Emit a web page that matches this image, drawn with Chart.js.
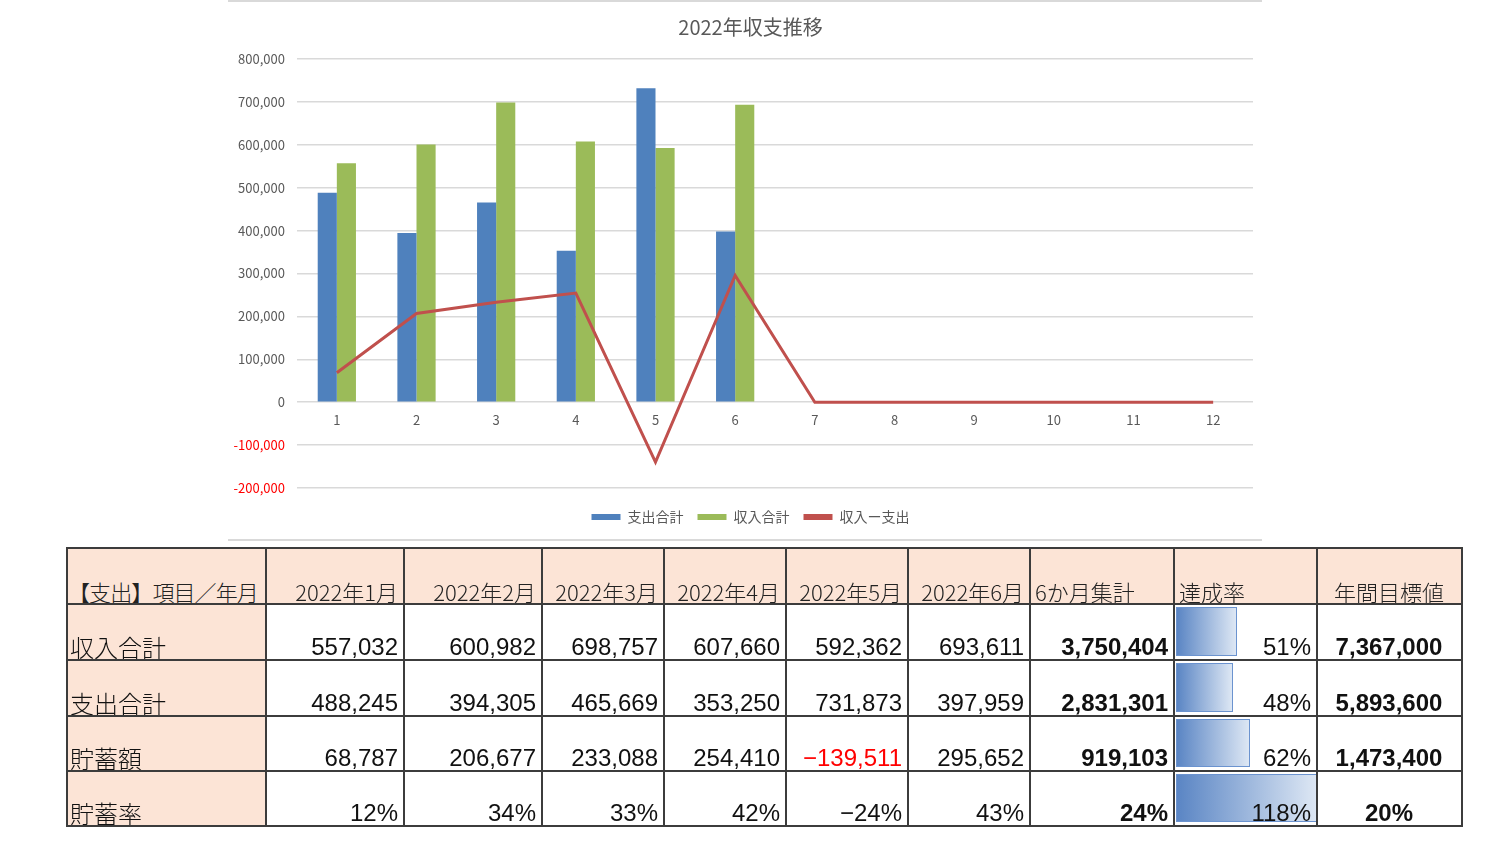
<!DOCTYPE html>
<html lang="ja">
<head>
<meta charset="utf-8">
<script src="https://cdn.jsdelivr.net/npm/chart.js@4.4.1/dist/chart.umd.min.js"></script>
<style>
  html, body { margin: 0; padding: 0; background: #fff; }
  body { width: 1500px; height: 843px; position: relative; overflow: hidden; }
  #chartWrap { position: absolute; left: 228px; top: 0; width: 1034px; height: 540px; }
  #chartWrap::before, #chartWrap::after { content: ""; position: absolute; left: 0; right: 0; height: 2px; background: #d9d9d9; }
  #chartWrap::before { top: 0; }
  #chartWrap::after { top: 539px; }
  #c { position: absolute; left: 0; top: 0; }
  #tbl { position: absolute; left: 66px; top: 547px; width: 1395px; border-collapse: collapse; table-layout: fixed;
         font-family: "Liberation Sans", "Noto Sans CJK JP", sans-serif; color: #111; }
  #tbl td { border: 2px solid #3c3c3c; vertical-align: bottom; padding: 0 5px 0 4px; line-height: 1.05; white-space: nowrap; overflow: hidden; position: relative; }
  #tbl tr.h td { background: #fce4d6; font-size: 22px; height: 54px; font-family: "Noto Sans CJK JP", sans-serif; font-weight: 300; color: #222; }
  #tbl tr.h td.first { letter-spacing: -0.9px; padding-left: 0; }
  #tbl tr.d td { font-size: 24px; height: 54px; }
  #tbl tr.d.s td { height: 53px; }
  #tbl td.lbl { background: #fce4d6; font-family: "Noto Sans CJK JP", sans-serif; font-size: 23px; text-align: left; font-weight: 300; padding-left: 2px; }
  .r { text-align: right; }
  .l { text-align: left; }
  .c { text-align: center; }
  .b { font-weight: bold; }
  .neg { color: #ff0000; }
  .bar { position: absolute; left: 1px; top: 2px; bottom: 3px; border: 1px solid #6b93cf; box-sizing: border-box;
         background: linear-gradient(to right, #5a85c4, #dde7f4); }
  .pct { position: relative; }
</style>
</head>
<body>
<div id="chartWrap"><canvas id="c" width="1054" height="540"></canvas></div>
<table id="tbl">
  <colgroup>
    <col style="width:199px"><col style="width:138px"><col style="width:138px"><col style="width:122px"><col style="width:122px">
    <col style="width:122px"><col style="width:122px"><col style="width:144px"><col style="width:143px"><col style="width:145px">
  </colgroup>
  <tbody id="tbody"></tbody>
</table>
<script>
// ---- chart data ----
const monthLabels = ['1','2','3','4','5','6','7','8','9','10','11','12'];
const expenseTotal = [488245, 394305, 465669, 353250, 731873, 397959];
const incomeTotal  = [557032, 600982, 698757, 607660, 592362, 693611];
const netBalance   = [68787, 206677, 233088, 254410, -139511, 295652, 0, 0, 0, 0, 0, 0];
const seriesNames  = ['支出合計', '収入合計', '収入ー支出'];
const chartTitle   = '2022年収支推移';

// ---- table data ----
const tableHeader   = ['【支出】項目／年月', '2022年1月', '2022年2月', '2022年3月', '2022年4月', '2022年5月', '2022年6月', '6か月集計', '達成率', '年間目標値'];
const rowLabels     = ['収入合計', '支出合計', '貯蓄額', '貯蓄率'];
const rowIncome     = ['557,032', '600,982', '698,757', '607,660', '592,362', '693,611'];
const rowExpense    = ['488,245', '394,305', '465,669', '353,250', '731,873', '397,959'];
const rowSavings    = ['68,787', '206,677', '233,088', '254,410', '−139,511', '295,652'];
const rowRate       = ['12%', '34%', '33%', '42%', '−24%', '43%'];
const sixMonthTotal = ['3,750,404', '2,831,301', '919,103', '24%'];
const achievement   = [51, 48, 62, 118];
const annualTarget  = ['7,367,000', '5,893,600', '1,473,400', '20%'];

// ---- build table ----
(function () {
  const tb = document.getElementById('tbody');
  let html = '<tr class="h">';
  tableHeader.forEach((h, i) => {
    const cls = (i === 0 || i === 7 || i === 8) ? 'l' : (i === 9 ? 'c' : 'r');
    html += `<td class="${cls}${i === 0 ? ' first' : ''}">${h}</td>`;
  });
  html += '</tr>';
  const rows = [rowIncome, rowExpense, rowSavings, rowRate];
  const maxAch = Math.max(...achievement);
  rows.forEach((row, ri) => {
    html += `<tr class="d${ri >= 2 ? ' s' : ''}">`;
    html += `<td class="lbl">${rowLabels[ri]}</td>`;
    row.forEach(v => {
      const neg = (ri === 2 && v.startsWith('−')) ? ' neg' : '';
      html += `<td class="r${neg}">${v}</td>`;
    });
    html += `<td class="r b">${sixMonthTotal[ri]}</td>`;
    const w = (achievement[ri] / maxAch * 100).toFixed(2);
    html += `<td class="r"><div class="bar" style="width:${w}%"></div><span class="pct">${achievement[ri]}%</span></td>`;
    html += `<td class="c b">${annualTarget[ri]}</td>`;
    html += '</tr>';
  });
  tb.innerHTML = html;
})();

// ---- chart ----
const FONT = '"Noto Sans CJK JP", "Noto Sans", sans-serif';
const fmt = v => v.toLocaleString('en-US');
new Chart(document.getElementById('c'), {
  data: {
    labels: monthLabels,
    datasets: [
      { type: 'bar', label: seriesNames[0], data: expenseTotal, backgroundColor: '#4f81bd', order: 2,
        barPercentage: 1.0, categoryPercentage: 0.48 },
      { type: 'bar', label: seriesNames[1], data: incomeTotal, backgroundColor: '#9bbb59', order: 2,
        barPercentage: 1.0, categoryPercentage: 0.48 },
      { type: 'line', label: seriesNames[2], data: netBalance, borderColor: '#c0504d', backgroundColor: '#c0504d',
        borderWidth: 3, pointRadius: 0, tension: 0, fill: false, order: 1 }
    ]
  },
  options: {
    responsive: false,
    animation: false,
    layout: { padding: { left: 0, right: 9, top: 0, bottom: 6 } },
    plugins: {
      title: { display: true, text: chartTitle, color: '#595959', font: { family: FONT, size: 20, weight: 'normal' },
               padding: { top: 15, bottom: 20 } },
      legend: {
        position: 'bottom',
        title: { display: true, text: ' ', font: { size: 8, lineHeight: 1 }, padding: 0 },
        labels: {
          color: '#595959', font: { family: FONT, size: 14 }, boxWidth: 29, boxHeight: 6, padding: 14,
          sort: (a, b) => a.datasetIndex - b.datasetIndex,
          generateLabels: (chart) => {
            const items = Chart.defaults.plugins.legend.labels.generateLabels(chart);
            items.forEach(it => { it.lineWidth = 0; it.fillStyle = chart.data.datasets[it.datasetIndex].backgroundColor; });
            return items;
          }
        }
      },
      tooltip: { enabled: false }
    },
    scales: {
      x: {
        position: { y: 0 },
        offset: true,
        grid: { display: false, drawTicks: false },
        border: { display: false },
        ticks: { color: '#595959', font: { family: FONT, size: 13 }, padding: 10 }
      },
      y: {
        min: -200000, max: 800000,
        afterFit: (s) => { s.width = 69; },
        grid: { color: '#d9d9d9', lineWidth: 1.5, drawTicks: false },
        border: { display: false },
        ticks: {
          stepSize: 100000, padding: 12,
          font: { family: FONT, size: 13 },
          color: (ctx) => (ctx.tick && ctx.tick.value < 0) ? '#ff0000' : '#595959',
          callback: (v) => fmt(v)
        }
      },
      yRight: {
        type: 'linear', position: 'right', display: true,
        afterFit: (s) => { s.width = 20; },
        grid: { display: false, drawTicks: false },
        border: { display: false },
        ticks: { display: false }
      }
    }
  }
});
</script>
</body>
</html>
